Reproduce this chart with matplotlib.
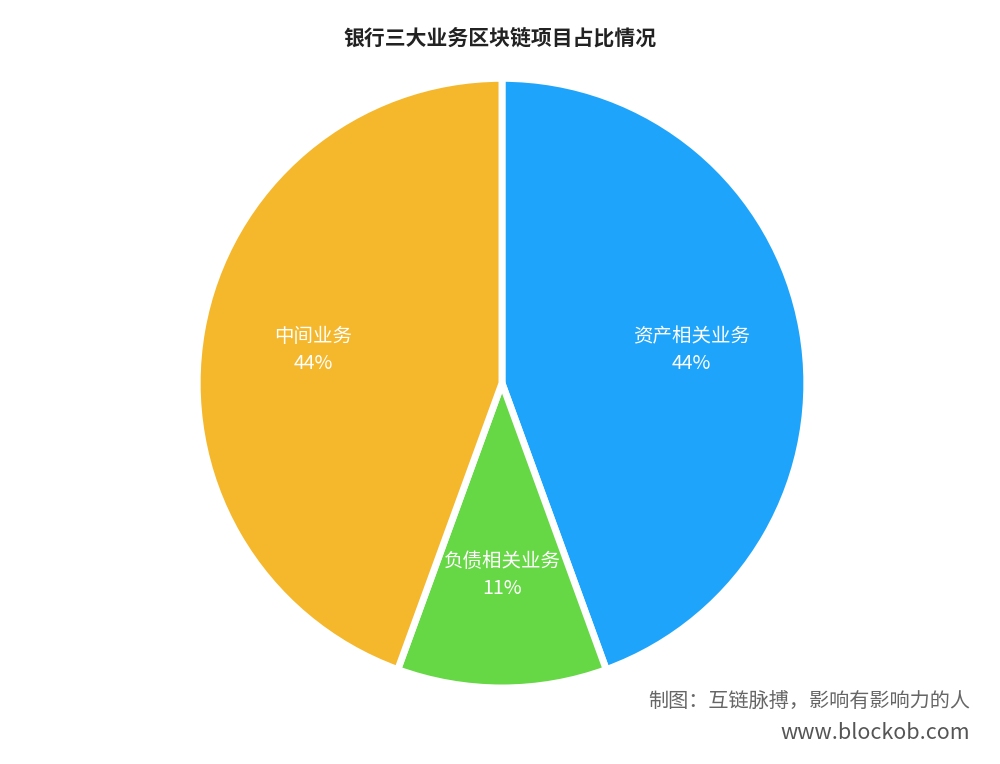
import matplotlib
matplotlib.use("Agg")
import matplotlib.pyplot as plt
import numpy as np

plt.rcParams["font.family"] = "Noto Sans CJK SC"

categories = ["资产相关业务", "负债相关业务", "中间业务"]
values = [4, 1, 4]
pct_labels = ["44%", "11%", "44%"]
colors = ["#1ea5fb", "#66d845", "#f5b72c"]

fig = plt.figure(figsize=(10, 7.64), dpi=100)
ax = fig.add_axes([0.197, 0.0995, 0.61, 0.798])
wedges, _ = ax.pie(values, colors=colors, startangle=90, counterclock=False,
                   wedgeprops=dict(edgecolor="white", linewidth=5))
ax.set_xlim(-1, 1)
ax.set_ylim(-1, 1)
ax.set_aspect("equal")
for w, c, p in zip(wedges, categories, pct_labels):
    ang = np.deg2rad((w.theta1 + w.theta2) / 2)
    x, y = 0.63 * np.cos(ang), 0.63 * np.sin(ang)
    ax.text(x, y, c + "\n" + p, ha="center", va="center", color="white",
            fontsize=14, linespacing=1.35)

fig.text(0.5, 0.95, "银行三大业务区块链项目占比情况", ha="center", va="center",
         fontsize=15, fontweight="bold", color="#222222")
fig.text(0.97, 0.082, "制图：互链脉搏，影响有影响力的人", ha="right", va="center",
         fontsize=14.5, color="#666666")
fig.text(0.97, 0.04, "www.blockob.com", ha="right", va="center",
         fontsize=15.5, color="#555555")
fig.savefig("out.png", dpi=100)
